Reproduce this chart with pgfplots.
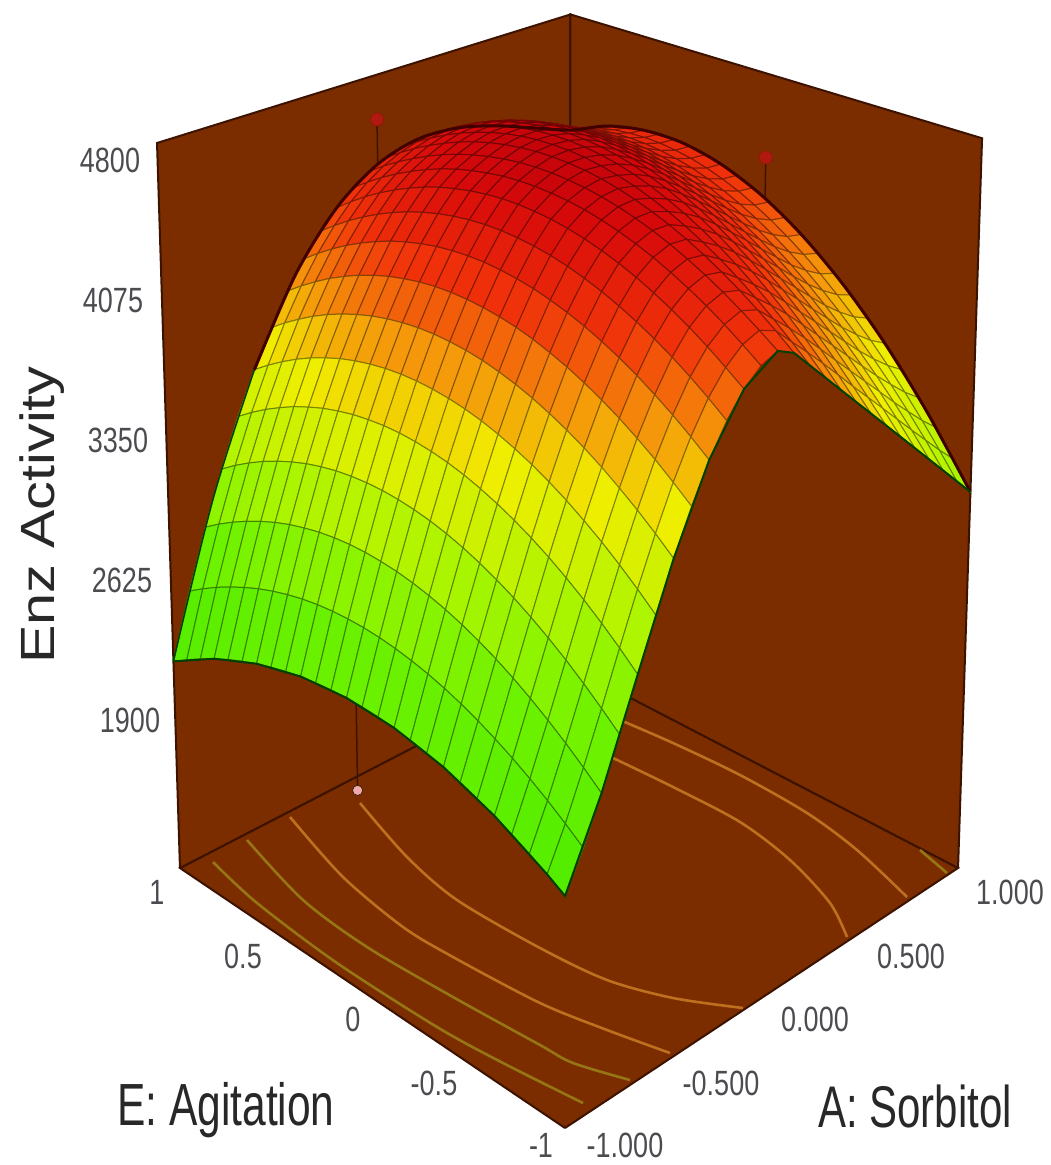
\documentclass[border=0pt]{standalone}
\usepackage{graphicx}
\usepackage{fontspec}
\setmainfont{Liberation Sans}
\usepackage{pgfplots}
\usepackage{pgfplotstable}
\pgfplotsset{compat=1.18}

\definecolor{wallc}{RGB}{124,45,0}
\definecolor{wallline}{RGB}{60,18,0}
\definecolor{contA}{RGB}{190,112,30}
\definecolor{contB}{RGB}{150,118,20}
\definecolor{tickc}{RGB}{75,75,80}
\definecolor{labc}{RGB}{40,40,40}

% perspective of the reference box: a, e, h in 0..1 to reference pixels
\newcommand\prx[3]{((565+528.6*(#1)-358.3*(#2)-36.6*(#3))/(1+.1415*(#1)+.1485*(#2)-.0652*(#3)))}
\newcommand\pry[3]{((1128-137.2*(#1)-131.1*(#2)-842*(#3))/(1+.1415*(#1)+.1485*(#2)-.0652*(#3)))}
\def\ph{((\thisrow{Z}-1175)/3625)}
% tables with columns A E Z
\def\pa{((\thisrow{A}+1)/2)}
\def\pe{((\thisrow{E}+1)/2)}
\def\px{\prx{\pa}{\pe}{\ph}}
\def\py{\pry{\pa}{\pe}{\ph}}
% surface table: one line per A (1 down to -1), E from 1 down to -1 along it, step .08
\def\sa{(1-.04*floor((\coordindex+.5)/26))}
\def\se{(1-.04*(\coordindex-26*floor((\coordindex+.5)/26)))}
\def\sx{\prx{\sa}{\se}{\ph}}
\def\sy{\pry{\sa}{\se}{\ph}}

\pgfplotstableread[row sep=\\]{
Z\\
4184\\ 4224\\ 4257\\ 4283\\ 4303\\ 4315\\ 4320\\ 4319\\ 4310\\ 4294\\ 4272\\ 4242\\ 4206\\ 4162\\ 4112\\ 4055\\ 3990\\ 3919\\ 3841\\ 3756\\ 3663\\ 3564\\ 3458\\ 3345\\ 3224\\ 3096\\
4214\\ 4249\\ 4278\\ 4300\\ 4317\\ 4326\\ 4330\\ 4327\\ 4317\\ 4302\\ 4280\\ 4251\\ 4217\\ 4175\\ 4128\\ 4074\\ 4014\\ 3947\\ 3874\\ 3795\\ 3710\\ 3618\\ 3519\\ 3414\\ 3303\\ 3186\\
4246\\ 4279\\ 4306\\ 4327\\ 4343\\ 4352\\ 4355\\ 4352\\ 4343\\ 4328\\ 4308\\ 4281\\ 4248\\ 4209\\ 4165\\ 4114\\ 4057\\ 3995\\ 3926\\ 3851\\ 3771\\ 3684\\ 3592\\ 3493\\ 3388\\ 3276\\
4279\\ 4312\\ 4340\\ 4361\\ 4377\\ 4387\\ 4391\\ 4389\\ 4382\\ 4368\\ 4349\\ 4324\\ 4294\\ 4257\\ 4215\\ 4167\\ 4113\\ 4053\\ 3988\\ 3916\\ 3839\\ 3756\\ 3668\\ 3573\\ 3473\\ 3366\\
4311\\ 4346\\ 4375\\ 4398\\ 4416\\ 4428\\ 4434\\ 4434\\ 4428\\ 4417\\ 4400\\ 4378\\ 4349\\ 4315\\ 4275\\ 4229\\ 4178\\ 4121\\ 4058\\ 3989\\ 3915\\ 3835\\ 3749\\ 3658\\ 3560\\ 3456\\
4341\\ 4379\\ 4410\\ 4436\\ 4456\\ 4470\\ 4478\\ 4481\\ 4478\\ 4469\\ 4454\\ 4434\\ 4408\\ 4376\\ 4339\\ 4295\\ 4246\\ 4191\\ 4131\\ 4065\\ 3992\\ 3915\\ 3831\\ 3742\\ 3647\\ 3546\\
4368\\ 4408\\ 4442\\ 4471\\ 4493\\ 4510\\ 4522\\ 4527\\ 4527\\ 4520\\ 4508\\ 4491\\ 4467\\ 4438\\ 4403\\ 4362\\ 4315\\ 4263\\ 4204\\ 4140\\ 4071\\ 3995\\ 3914\\ 3826\\ 3733\\ 3636\\
4389\\ 4433\\ 4470\\ 4502\\ 4528\\ 4548\\ 4562\\ 4570\\ 4573\\ 4570\\ 4560\\ 4545\\ 4525\\ 4498\\ 4465\\ 4427\\ 4383\\ 4333\\ 4277\\ 4215\\ 4148\\ 4074\\ 3995\\ 3910\\ 3819\\ 3725\\
4404\\ 4450\\ 4491\\ 4526\\ 4555\\ 4578\\ 4595\\ 4607\\ 4612\\ 4612\\ 4606\\ 4594\\ 4577\\ 4553\\ 4524\\ 4488\\ 4447\\ 4400\\ 4348\\ 4289\\ 4225\\ 4154\\ 4078\\ 3996\\ 3908\\ 3815\\
4411\\ 4460\\ 4504\\ 4541\\ 4573\\ 4600\\ 4620\\ 4635\\ 4643\\ 4646\\ 4644\\ 4635\\ 4621\\ 4600\\ 4574\\ 4543\\ 4505\\ 4462\\ 4412\\ 4357\\ 4297\\ 4230\\ 4158\\ 4079\\ 3995\\ 3905\\
4408\\ 4459\\ 4505\\ 4545\\ 4579\\ 4608\\ 4631\\ 4648\\ 4660\\ 4666\\ 4666\\ 4661\\ 4650\\ 4634\\ 4612\\ 4584\\ 4550\\ 4511\\ 4466\\ 4416\\ 4360\\ 4298\\ 4231\\ 4158\\ 4079\\ 3995\\
4394\\ 4447\\ 4494\\ 4535\\ 4571\\ 4602\\ 4627\\ 4647\\ 4662\\ 4671\\ 4674\\ 4673\\ 4666\\ 4653\\ 4635\\ 4612\\ 4583\\ 4549\\ 4510\\ 4465\\ 4415\\ 4359\\ 4298\\ 4232\\ 4160\\ 4085\\
4369\\ 4421\\ 4469\\ 4511\\ 4548\\ 4581\\ 4608\\ 4631\\ 4648\\ 4660\\ 4668\\ 4670\\ 4667\\ 4660\\ 4647\\ 4629\\ 4606\\ 4578\\ 4546\\ 4508\\ 4465\\ 4417\\ 4364\\ 4306\\ 4243\\ 4175\\
4329\\ 4382\\ 4430\\ 4473\\ 4512\\ 4546\\ 4575\\ 4599\\ 4618\\ 4633\\ 4643\\ 4648\\ 4648\\ 4643\\ 4634\\ 4620\\ 4601\\ 4577\\ 4549\\ 4515\\ 4477\\ 4434\\ 4387\\ 4334\\ 4277\\ 4217\\
4274\\ 4329\\ 4380\\ 4425\\ 4465\\ 4501\\ 4532\\ 4558\\ 4578\\ 4594\\ 4606\\ 4612\\ 4613\\ 4609\\ 4601\\ 4588\\ 4569\\ 4546\\ 4518\\ 4485\\ 4447\\ 4404\\ 4357\\ 4304\\ 4246\\ 4184\\
4202\\ 4260\\ 4313\\ 4360\\ 4402\\ 4439\\ 4472\\ 4499\\ 4520\\ 4537\\ 4549\\ 4556\\ 4557\\ 4553\\ 4545\\ 4531\\ 4512\\ 4488\\ 4459\\ 4425\\ 4385\\ 4341\\ 4292\\ 4237\\ 4177\\ 4114\\
4113\\ 4170\\ 4223\\ 4270\\ 4312\\ 4349\\ 4381\\ 4407\\ 4429\\ 4445\\ 4457\\ 4463\\ 4464\\ 4459\\ 4450\\ 4436\\ 4416\\ 4391\\ 4361\\ 4326\\ 4286\\ 4241\\ 4191\\ 4135\\ 4074\\ 4008\\
4004\\ 4061\\ 4113\\ 4160\\ 4201\\ 4237\\ 4269\\ 4294\\ 4315\\ 4331\\ 4341\\ 4346\\ 4346\\ 4340\\ 4329\\ 4314\\ 4292\\ 4266\\ 4235\\ 4198\\ 4156\\ 4109\\ 4056\\ 3999\\ 3936\\ 3868\\
3873\\ 3930\\ 3981\\ 4028\\ 4068\\ 4104\\ 4134\\ 4159\\ 4178\\ 4193\\ 4202\\ 4205\\ 4203\\ 4196\\ 4184\\ 4167\\ 4144\\ 4115\\ 4082\\ 4043\\ 3999\\ 3950\\ 3895\\ 3835\\ 3769\\ 3699\\
3721\\ 3777\\ 3827\\ 3873\\ 3913\\ 3947\\ 3976\\ 4000\\ 4018\\ 4031\\ 4039\\ 4041\\ 4037\\ 4029\\ 4015\\ 3995\\ 3970\\ 3940\\ 3904\\ 3863\\ 3817\\ 3765\\ 3707\\ 3645\\ 3577\\ 3504\\
3544\\ 3599\\ 3649\\ 3694\\ 3733\\ 3766\\ 3795\\ 3817\\ 3834\\ 3846\\ 3852\\ 3853\\ 3848\\ 3838\\ 3823\\ 3802\\ 3775\\ 3743\\ 3706\\ 3663\\ 3615\\ 3561\\ 3502\\ 3437\\ 3367\\ 3291\\
3342\\ 3397\\ 3446\\ 3489\\ 3528\\ 3560\\ 3588\\ 3609\\ 3626\\ 3636\\ 3642\\ 3642\\ 3636\\ 3625\\ 3609\\ 3587\\ 3559\\ 3526\\ 3488\\ 3444\\ 3395\\ 3340\\ 3280\\ 3214\\ 3143\\ 3066\\
3113\\ 3167\\ 3215\\ 3258\\ 3295\\ 3327\\ 3354\\ 3375\\ 3391\\ 3401\\ 3406\\ 3406\\ 3400\\ 3389\\ 3373\\ 3351\\ 3324\\ 3291\\ 3253\\ 3210\\ 3161\\ 3107\\ 3048\\ 2983\\ 2913\\ 2839\\
2856\\ 2909\\ 2956\\ 2998\\ 3035\\ 3067\\ 3094\\ 3115\\ 3132\\ 3143\\ 3149\\ 3150\\ 3145\\ 3136\\ 3121\\ 3101\\ 3076\\ 3046\\ 3010\\ 2970\\ 2924\\ 2873\\ 2817\\ 2756\\ 2690\\ 2619\\
2570\\ 2621\\ 2668\\ 2709\\ 2746\\ 2779\\ 2806\\ 2829\\ 2847\\ 2860\\ 2868\\ 2871\\ 2870\\ 2864\\ 2853\\ 2837\\ 2817\\ 2792\\ 2762\\ 2727\\ 2687\\ 2643\\ 2594\\ 2540\\ 2481\\ 2418\\
2252\\ 2302\\ 2348\\ 2390\\ 2428\\ 2461\\ 2490\\ 2515\\ 2536\\ 2553\\ 2565\\ 2573\\ 2577\\ 2577\\ 2573\\ 2564\\ 2551\\ 2534\\ 2513\\ 2488\\ 2458\\ 2424\\ 2386\\ 2344\\ 2298\\ 2248\\
}\surfdata
% the table reader wants a second and third column even though x and y are computed
\pgfplotstablecreatecol[create col/copy=Z]{P}\surfdata
\pgfplotstablecreatecol[create col/copy=Z]{Q}\surfdata

\begin{document}
\begin{tikzpicture}
\useasboundingbox (0,0) rectangle (1051pt,1165pt);
\begin{axis}[
    at={(0,0)}, anchor=south west,
    width=1051pt, height=1165pt, scale only axis,
    view={0}{90},
    hide axis, clip=false,
    xmin=0, xmax=1051, ymin=0, ymax=1165, zmin=0, zmax=5000,
    y dir=reverse,
    colormap={rsm}{rgb255(2200)=(75,235,0) rgb255(2800)=(110,242,0) rgb255(3200)=(170,245,0) rgb255(3650)=(240,238,0) rgb255(3950)=(245,150,10) rgb255(4250)=(240,50,10) rgb255(4550)=(215,10,10) rgb255(4750)=(185,0,10)},
    point meta min=2200, point meta max=4750,
    no markers,
]
% floor and the two back walls
\addplot3[fill=wallc, draw=wallline, line width=2pt] table[x expr=\px, y expr=\py, z=Z] {
A E Z
-1 -1 1175
1 -1 1175
1 1 1175
-1 1 1175
-1 -1 1175
};
\addplot3[fill=wallc, draw=wallline, line width=2pt] table[x expr=\px, y expr=\py, z=Z] {
A E Z
-1 1 1175
1 1 1175
1 1 4800
-1 1 4800
-1 1 1175
};
\addplot3[fill=wallc, draw=wallline, line width=2pt] table[x expr=\px, y expr=\py, z=Z] {
A E Z
1 -1 1175
1 1 1175
1 1 4800
1 -1 4800
1 -1 1175
};
% contours on the floor, in reference pixels
\addplot3[contA, line width=2.6pt, smooth] coordinates {(360,803,0) (407,857,0) (457,900,0) (540,948,0) (607,980,0) (673,998,0) (743,1008,0)};
\addplot3[contA, line width=2.6pt, smooth] coordinates {(613,758,0) (673,787,0) (740,822,0) (790,860,0) (830,903,0) (847,937,0)};
\addplot3[contA, line width=2.6pt, smooth] coordinates {(290,817,0) (343,877,0) (403,927,0) (453,957,0) (540,1003,0) (607,1030,0) (670,1053,0)};
\addplot3[contA, line width=2.6pt, smooth] coordinates {(620,720,0) (673,743,0) (740,775,0) (807,813,0) (857,850,0) (907,897,0)};
\addplot3[contB, line width=2.6pt, smooth] coordinates {(247,840,0) (303,900,0) (367,947,0) (453,997,0) (540,1045,0) (573,1063,0) (630,1080,0)};
\addplot3[contB, line width=2.6pt, smooth] coordinates {(920,850,0) (947,873,0)};
\addplot3[contB, line width=2.6pt, smooth] coordinates {(213,862,0) (257,903,0) (337,963,0) (437,1027,0) (503,1063,0) (583,1103,0)};
% design points behind the surface
\addplot3[wallline, line width=1.5pt] table[x expr=\px, y expr=\py, z=Z] {
A E Z
-.21 .926 1175
-.21 .926 1700
};
\addplot3[only marks, mark=square*, mark size=5pt, mark options={fill={rgb,255:red,240;green,170;blue,170}, draw=none}] table[x expr=\px, y expr=\py, z=Z] {
A E Z
-.21 .926 1175
};
\addplot3[wallline, line width=1.5pt] table[x expr=\px, y expr=\py, z=Z] {
A E Z
0 1 4329
0 1 4576
};
\addplot3[wallline, line width=1.5pt] table[x expr=\px, y expr=\py, z=Z] {
A E Z
1 -.02 4180
1 -.02 4380
};
\addplot3[only marks, mark=*, mark size=6.5pt, mark options={fill={rgb,255:red,175;green,25;blue,15}, draw={rgb,255:red,140;green,20;blue,10}}] table[x expr=\px, y expr=\py, z=Z] {
A E Z
0 1 4576
1 -.02 4380
};
% response surface, written back to front
\addplot3[surf, shader=faceted, z buffer=none, faceted color=mapped color!55!black, line width=1pt,
    mesh/rows=26, mesh/cols=26, point meta=\thisrow{Z}]
    table[x expr=\sx, y expr=\sy, z=Z] {\surfdata};
% dark rim: far edges, then the thinner near edges
\addplot3[black!75!red, line width=3pt, smooth] table[x expr=\px, y expr=\py, z=Z] {
A E Z
-.6 1 3543
-.4 1 3941
-.2 1 4202
0 1 4350
.2 1 4409
.4 1 4398
.6 1 4342
.8 1 4263
1 1 4184
1 .8 4271
1 .6 4314
1 .4 4315
1 .2 4271
1 0 4184
1 -.2 4053
1 -.4 3879
1 -.6 3662
1 -.8 3401
1 -1 3096
};
\addplot3[black!75!green, line width=1.5pt, smooth] table[x expr=\px, y expr=\py, z=Z] {
A E Z
-1 1 2252
-.8 1 2988
-.6 1 3543
};
\addplot3[black!75!green, line width=2pt] table[x expr=\px, y expr=\py, z=Z] {
A E Z
-1 1 2252
-1 .76 2390
-1 .52 2490
-1 .28 2553
-1 .04 2577
-1 -.2 2564
-1 -.44 2513
-1 -.68 2424
-1 -.92 2298
-1 -1 2248
-.84 -1 2619
-.68 -1 3066
-.52 -1 3504
-.36 -1 3868
-.2 -1 4114
-.04 -1 4217
.04 -1 4175
.28 -1 3905
.52 -1 3636
.76 -1 3366
1 -1 3096
};
% tick labels and titles
\foreach \x/\y/\t in {110/160/4800,113/300/4075,118/440/3350,122/580/2625,130/720/1900,
    157/892/1,243/956/0.5,353/1019/0,434/1083/-0.5,541/1145/-1,
    625/1145/-1.000,721/1083/-0.500,815/1019/0.000,911/956/0.500,1010/892/1.000}{
  \edef\temp{\noexpand\node[text=tickc, inner sep=0pt] at (axis cs:\x,\y,0) {\noexpand\fontsize{27}{30}\noexpand\selectfont\noexpand\scalebox{1}[1.3]{\t}};}
  \temp
}
\node[text=labc, anchor=base, inner sep=0pt] at (axis cs:226,1125,0) {\fontsize{42.5}{45}\selectfont\scalebox{1}[1.4]{E: Agitation}};
\node[text=labc, anchor=base, inner sep=0pt] at (axis cs:915,1127,0) {\fontsize{42}{45}\selectfont\scalebox{1}[1.4]{A: Sorbitol}};
\node[text=labc, anchor=base, inner sep=0pt, rotate=90] at (axis cs:54,515,0) {\fontsize{48}{50}\selectfont\scalebox{1.2}[1]{Enz Activity}};
\end{axis}
\end{tikzpicture}
\end{document}
